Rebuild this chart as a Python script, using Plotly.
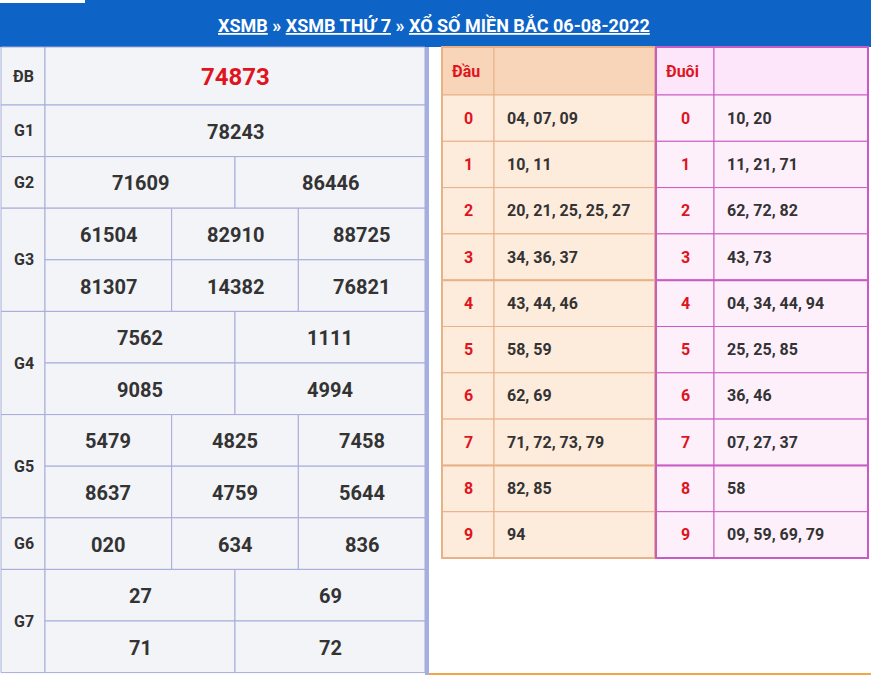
import plotly.graph_objects as go

# ---- data ----
prize_labels = ["ĐB", "G1", "G2", "G3", "G4", "G5", "G6", "G7"]
prize_numbers = [
    [["74873"]],
    [["78243"]],
    [["71609", "86446"]],
    [["61504", "82910", "88725"], ["81307", "14382", "76821"]],
    [["7562", "1111"], ["9085", "4994"]],
    [["5479", "4825", "7458"], ["8637", "4759", "5644"]],
    [["020", "634", "836"]],
    [["27", "69"], ["71", "72"]],
]
digits = ["0", "1", "2", "3", "4", "5", "6", "7", "8", "9"]
dau_values = ["04, 07, 09", "10, 11", "20, 21, 25, 25, 27", "34, 36, 37", "43, 44, 46",
              "58, 59", "62, 69", "71, 72, 73, 79", "82, 85", "94"]
duoi_values = ["10, 20", "11, 21, 71", "62, 72, 82", "43, 73", "04, 34, 44, 94",
               "25, 25, 85", "36, 46", "07, 27, 37", "58", "09, 59, 69, 79"]
title_parts = ["XSMB", "XSMB THỨ 7", "XỔ SỐ MIỀN BẮC 06-08-2022"]

W, H = 871, 675
FONT = "Roboto"
shapes, ann = [], []

def rect(x0, y0, x1, y1, fill, line="rgba(0,0,0,0)", lw=1):
    shapes.append(dict(type="rect", x0=x0, y0=y0, x1=x1, y1=y1, fillcolor=fill,
                       line=dict(color=line, width=lw), layer="below"))

def text(x, y, s, size=20, color="#333", anchor="center", bold=True):
    ann.append(dict(x=x, y=y, text="<b>%s</b>" % s if bold else s, showarrow=False,
                    xanchor=anchor, yanchor="middle",
                    font=dict(family=FONT, size=size, color=color)))

# header
rect(0, 0, W, 47, "#0e63c6")
rect(0, 0, 85, 3, "#ffffff")
title = " » ".join("<u>%s</u>" % t for t in title_parts)
ann.append(dict(x=W / 2 - 2, y=24, text="<b>%s</b>" % title, showarrow=False,
                font=dict(family=FONT, size=18, color="white"), yanchor="middle"))

# left results table
top, sub = 47, 51.6
lx0, lx1, lab = 1, 425, 45
border = "#a5acd9"
y = top
for i, (lbl, rows) in enumerate(zip(prize_labels, prize_numbers)):
    hrow = 58 if i == 0 else sub
    y0 = y
    rect(lx0, y0, lab, y0 + hrow * len(rows), "#f3f4f8", border, 1)
    text(lab / 2 + 1, y0 + hrow * len(rows) / 2, lbl, size=16)
    for r in rows:
        n = len(r)
        cw = (lx1 - lab) / n
        for j, v in enumerate(r):
            rect(lab + j * cw, y, lab + (j + 1) * cw, y + hrow, "#f3f4f8", border, 1)
            if i == 0:
                text(lab + (j + 0.5) * cw, y + hrow / 2 + 1, v, size=24, color="#e0141e")
            else:
                text(lab + (j + 0.5) * cw, y + hrow / 2 + 1, v, size=20)
        y += hrow
shapes.append(dict(type="line", x0=427, x1=427, y0=47, y1=H, line=dict(color="#a4aee0", width=4)))
shapes.append(dict(type="line", x0=429, x1=W, y0=H - 1, y1=H - 1, line=dict(color="#f2a64a", width=2)))

# dau / duoi tables
hy0, hy1, rh = 47, 95, 46.3
def side(x0, xm, x1, head, vals, bg, hbg, bc):
    rect(x0, hy0, xm, hy1, hbg, bc, 1)
    rect(xm, hy0, x1, hy1, hbg, bc, 1)
    text(x0 + 8, (hy0 + hy1) / 2, head, size=16, color="#e0141e", anchor="left")
    for k, (d, v) in enumerate(zip(digits, vals)):
        ya = hy1 + k * rh
        rect(x0, ya, xm, ya + rh, bg, bc, 1)
        rect(xm, ya, x1, ya + rh, bg, bc, 1)
        text((x0 + xm) / 2, ya + rh / 2, d, size=16, color="#e0141e")
        text(xm + 11, ya + rh / 2, v, size=16, anchor="left")
    for yy in (hy1 + 4 * rh, hy1 + 8 * rh):
        shapes.append(dict(type="line", x0=x0, x1=x1, y0=yy, y1=yy, line=dict(color=bc, width=2)))
    shapes.append(dict(type="rect", x0=x0, x1=x1, y0=hy0, y1=hy1 + 10 * rh,
                       line=dict(color=bc, width=2)))

side(442, 494, 655, "Đầu", dau_values, "#fdebdc", "#f8d5b9", "#e8b186")
side(656, 714, 868, "Đuôi", duoi_values, "#fdf0fb", "#fde6f9", "#c95cc4")

fig = go.Figure()
fig.update_layout(width=W, height=H, margin=dict(l=0, r=0, t=0, b=0),
                  paper_bgcolor="white", plot_bgcolor="white",
                  shapes=shapes, annotations=ann, showlegend=False)
fig.update_xaxes(range=[0, W], visible=False, fixedrange=True)
fig.update_yaxes(range=[H, 0], visible=False, fixedrange=True)
fig.write_html("out.html", config={"displayModeBar": False},
               post_script="document.body.style.margin='0';document.body.style.overflow='hidden';")
